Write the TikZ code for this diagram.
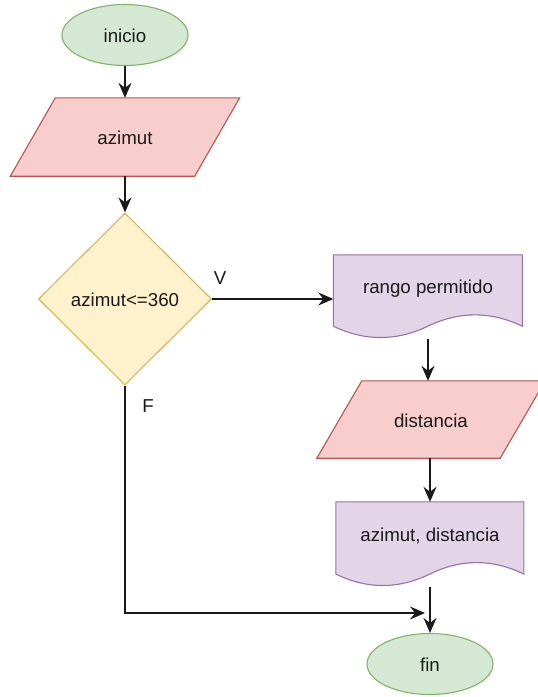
\documentclass[tikz,border=0pt]{standalone}
\usepackage{fontspec}
\setmainfont{Liberation Sans}
\usetikzlibrary{shapes.geometric,arrows.meta,backgrounds,calc}

\definecolor{termfill}{HTML}{D5E8D4}
\definecolor{termline}{HTML}{82B366}
\definecolor{iofill}{HTML}{F8CECC}
\definecolor{ioline}{HTML}{B85450}
\definecolor{decfill}{HTML}{FFF2CC}
\definecolor{decline}{HTML}{D6B656}
\definecolor{docfill}{HTML}{E1D5E7}
\definecolor{docline}{HTML}{9673A6}
\definecolor{ink}{HTML}{1A1A1A}

% parallelogram (input/output) drawn inside the box of a node: #1 node, #2 slant
\newcommand\iopath[2]{%
  \draw[ioshape] ($(#1.north west)+(#2,0)$) -- (#1.north east)
    -- ($(#1.south east)+(-#2,0)$) -- (#1.south west) -- cycle;}

% document shape with a wavy lower edge: #1 node, #2 width, #3 height
\newcommand\docpath[3]{%
  \draw[docshape, shift={(#1.north west)}] (0,0) -- ({#2},0) -- ({#2},{0.85*#3})
    .. controls ({5*#2/6},{0.67*#3}) and ({2*#2/3},{0.67*#3}) .. ({#2/2},{0.85*#3})
    .. controls ({#2/3},{1.03*#3}) and ({#2/6},{1.03*#3}) .. (0,{0.85*#3}) -- cycle;}

\begin{document}
\begin{tikzpicture}[x=1pt,y=-1pt,
  txt/.style={font=\fontsize{18.7}{22}\selectfont, text=ink, inner sep=0pt,
    text height=15.5pt, text depth=0.5pt},
  terminal/.style={txt, ellipse, draw=termline, fill=termfill, line width=1.1pt,
    minimum width=126pt, minimum height=61pt},
  decision/.style={txt, diamond, draw=decline, fill=decfill, line width=1.1pt,
    minimum width=173pt, minimum height=172pt},
  iobox/.style={txt, rectangle},
  docbox/.style={txt, rectangle, text height=14pt, text depth=20.5pt},
  ioshape/.style={draw=ioline, fill=iofill, line width=1.1pt, line join=miter},
  docshape/.style={draw=docline, fill=docfill, line width=1.1pt},
  flow/.style={draw=ink, line width=1.6pt,
    -{Stealth[length=15pt,width=13pt,inset=5pt]}}]

\useasboundingbox (0,0) rectangle (538,697);

% flowchart nodes
\node[terminal] (inicio) at (125,35) {inicio};
\node[iobox, minimum width=229pt, minimum height=78pt] (az) at (125,137) {azimut};
\node[decision] (dec) at (125,299) {azimut<=360};
\node[docbox, minimum width=189pt, minimum height=84pt] (rango) at (428,297) {rango permitido};
\node[iobox, minimum width=228pt, minimum height=77pt] (dist) at (431,419.5) {distancia};
\node[docbox, minimum width=188pt, minimum height=85pt] (out) at (430,544.5) {azimut, distancia};
\node[terminal] (fin) at (430,664) {fin};

% branch labels
\node[txt] (vlab) at (220,277) {V};
\node[txt] (flab) at (148,404.5) {F};

% shapes behind the texts
\begin{scope}[on background layer]
  \fill[white] (0,0) rectangle (538,697);
  \clip (0,0) rectangle (538,697);
  \iopath{az}{45}
  \iopath{dist}{45}
  \docpath{rango}{189}{84}
  \docpath{out}{188}{85}
\end{scope}

% connectors
\coordinate (join) at (425,613);
\draw[flow] (inicio) -- (az);
\draw[flow] (az) -- (dec);
\draw[flow] (dec.east) -- (dec.east -| rango.west);
\draw[flow] (rango.south) -- (rango.south |- dist.north);
\draw[flow] (out.north |- dist.south) -- (out.north);
\draw[flow] (out.south) -- (fin.north);
\draw[flow] (dec.south) |- (join);
\end{tikzpicture}
\end{document}
